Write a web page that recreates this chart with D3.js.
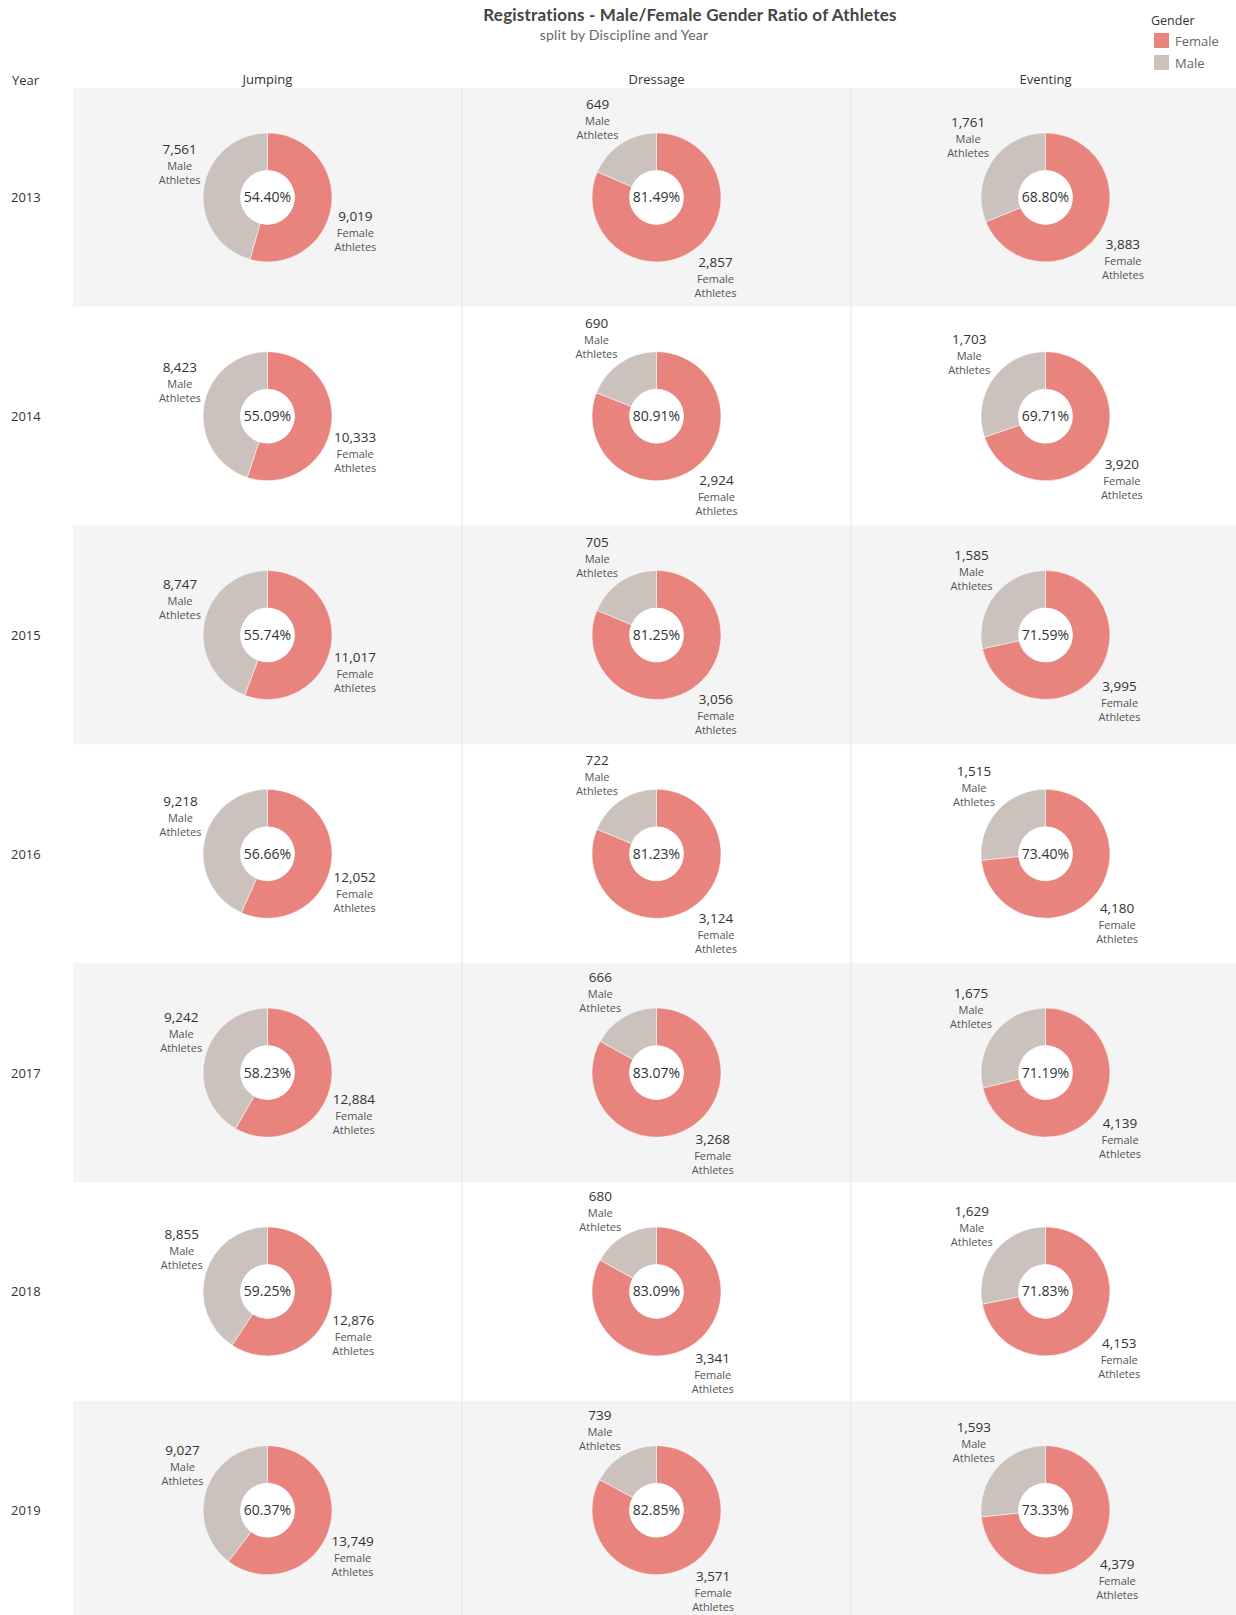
<!DOCTYPE html>
<html>
<head>
<meta charset="utf-8">
<script src="https://cdn.jsdelivr.net/npm/d3@7"></script>
<style>
    body { margin: 0; background: #fff; }
    svg text { font-family: "Open Sans", "Noto Sans", sans-serif; }
</style>
</head>
<body>
<div id="chart"></div>
<script>
// values
var years = [2013, 2014, 2015, 2016, 2017, 2018, 2019];
var disciplines = ['Jumping', 'Dressage', 'Eventing'];
var genders = ['Female', 'Male'];

var jumpingMale = [7561, 8423, 8747, 9218, 9242, 8855, 9027];
var jumpingFemale = [9019, 10333, 11017, 12052, 12884, 12876, 13749];
var dressageMale = [649, 690, 705, 722, 666, 680, 739];
var dressageFemale = [2857, 2924, 3056, 3124, 3268, 3341, 3571];
var eventingMale = [1761, 1703, 1585, 1515, 1675, 1629, 1593];
var eventingFemale = [3883, 3920, 3995, 4180, 4139, 4153, 4379];

var seriesByDiscipline = {
    Jumping: {male: jumpingMale, female: jumpingFemale},
    Dressage: {male: dressageMale, female: dressageFemale},
    Eventing: {male: eventingMale, female: eventingFemale}
};

var width = 1236, height = 1615;
var top0 = 88, rowH = 218.8;
var rOuter = 64.5, rInner = 27;

var color = d3.scaleOrdinal().domain(genders).range(['#e8837e', '#cbc2bd']);
var x = d3.scaleBand().domain(disciplines).range([73, 73 + 3 * 389]);
var y = d3.scaleBand().domain(years).range([top0, top0 + years.length * rowH]);

var svg = d3.select('#chart')
    .append('svg')
    .attr('width', width)
    .attr('height', height);

// row bands
svg.selectAll('rect.band')
    .data(years.filter(function (d, i) { return i % 2 === 0; }))
    .enter().append('rect')
    .attr('class', 'band')
    .attr('x', x.range()[0])
    .attr('y', function (d) { return y(d); })
    .attr('width', width - x.range()[0])
    .attr('height', y.bandwidth())
    .attr('fill', '#f4f4f4');

// column dividers
svg.selectAll('line.divider')
    .data(disciplines.slice(1))
    .enter().append('line')
    .attr('class', 'divider')
    .attr('x1', function (d) { return x(d); })
    .attr('x2', function (d) { return x(d); })
    .attr('y1', top0)
    .attr('y2', height)
    .attr('stroke', '#e4e4e4')
    .attr('stroke-width', 1);

// titles
svg.append('text')
    .attr('x', 690)
    .attr('y', 21)
    .attr('text-anchor', 'middle')
    .style('font-family', 'Lato, sans-serif')
    .style('font-size', '17px')
    .style('font-weight', 'bold')
    .style('letter-spacing', '0.2px')
    .attr('fill', '#444')
    .text('Registrations - Male/Female Gender Ratio of Athletes');

svg.append('text')
    .attr('x', 624)
    .attr('y', 40)
    .attr('text-anchor', 'middle')
    .style('font-family', 'Lato, sans-serif')
    .style('font-size', '14px')
    .style('letter-spacing', '0.2px')
    .attr('fill', '#666')
    .text('split by Discipline and Year');

// legend
svg.append('text')
    .attr('x', 1151)
    .attr('y', 25)
    .style('font-size', '12.5px')
    .attr('fill', '#333')
    .text('Gender');

var legend = svg.selectAll('g.legend')
    .data(genders)
    .enter().append('g')
    .attr('class', 'legend')
    .attr('transform', function (d, i) { return 'translate(1154,' + (33 + i * 22) + ')'; });

legend.append('rect')
    .attr('width', 15)
    .attr('height', 15)
    .attr('fill', function (d) { return color(d); });

legend.append('text')
    .attr('x', 21)
    .attr('y', 12.5)
    .style('font-size', '13px')
    .attr('fill', '#666')
    .text(function (d) { return d; });

// headers
svg.append('text')
    .attr('x', 12)
    .attr('y', 85)
    .style('font-size', '13px')
    .attr('fill', '#333')
    .text('Year');

svg.selectAll('text.colhead')
    .data(disciplines)
    .enter().append('text')
    .attr('class', 'colhead')
    .attr('x', function (d) { return x(d) + x.bandwidth() / 2; })
    .attr('y', 84)
    .attr('text-anchor', 'middle')
    .style('font-size', '13px')
    .attr('fill', '#333')
    .text(function (d) { return d; });

svg.selectAll('text.rowhead')
    .data(years)
    .enter().append('text')
    .attr('class', 'rowhead')
    .attr('x', 11)
    .attr('y', function (d) { return y(d) + y.bandwidth() / 2 + 5; })
    .style('font-size', '13px')
    .attr('fill', '#333')
    .text(function (d) { return d; });

// donuts
var pie = d3.pie().sort(null).value(function (d) { return d.value; });
var arc = d3.arc().innerRadius(rInner).outerRadius(rOuter);
var fmt = d3.format(',');
var pct = d3.format('.2%');

var cells = [];
disciplines.forEach(function (disc) {
    years.forEach(function (yr, i) {
        cells.push({
            discipline: disc,
            year: yr,
            slices: [
                {gender: 'Female', value: seriesByDiscipline[disc].female[i]},
                {gender: 'Male', value: seriesByDiscipline[disc].male[i]}
            ]
        });
    });
});

var cell = svg.selectAll('g.cell')
    .data(cells)
    .enter().append('g')
    .attr('class', 'cell')
    .attr('transform', function (d) {
        return 'translate(' + (x(d.discipline) + x.bandwidth() / 2) + ',' + (y(d.year) + y.bandwidth() / 2) + ')';
    });

cell.selectAll('path')
    .data(function (d) { return pie(d.slices); })
    .enter().append('path')
    .attr('d', arc)
    .attr('fill', function (d) { return color(d.data.gender); })
    .attr('stroke', '#fff')
    .attr('stroke-width', 0.5);

cell.append('circle')
    .attr('r', rInner)
    .attr('fill', '#fff');

cell.append('text')
    .attr('y', 5)
    .attr('text-anchor', 'middle')
    .style('font-size', '14px')
    .attr('fill', '#333')
    .text(function (d) {
        return pct(d.slices[0].value / (d.slices[0].value + d.slices[1].value));
    });

// labels outside each slice
var lab = cell.selectAll('g.lab')
    .data(function (d) { return pie(d.slices); })
    .enter().append('g')
    .attr('class', 'lab')
    .attr('transform', function (d) {
        var a = (d.startAngle + d.endAngle) / 2;
        var ax = Math.sin(a) * (rOuter + 1);
        var ay = -Math.cos(a) * (rOuter + 1);
        var tx = ax + (ax >= 0 ? 23 : -23);
        var ty = ay >= 0 ? ay + 15 : ay - 34;
        return 'translate(' + tx + ',' + ty + ')';
    });

lab.append('text')
    .attr('text-anchor', 'middle')
    .style('font-size', '13.5px')
    .attr('fill', '#333')
    .text(function (d) { return fmt(d.data.value); });

lab.append('text')
    .attr('y', 16)
    .attr('text-anchor', 'middle')
    .style('font-size', '11px')
    .attr('fill', '#555')
    .text(function (d) { return d.data.gender; });

lab.append('text')
    .attr('y', 30)
    .attr('text-anchor', 'middle')
    .style('font-size', '11px')
    .attr('fill', '#555')
    .text('Athletes');
</script>
</body>
</html>
